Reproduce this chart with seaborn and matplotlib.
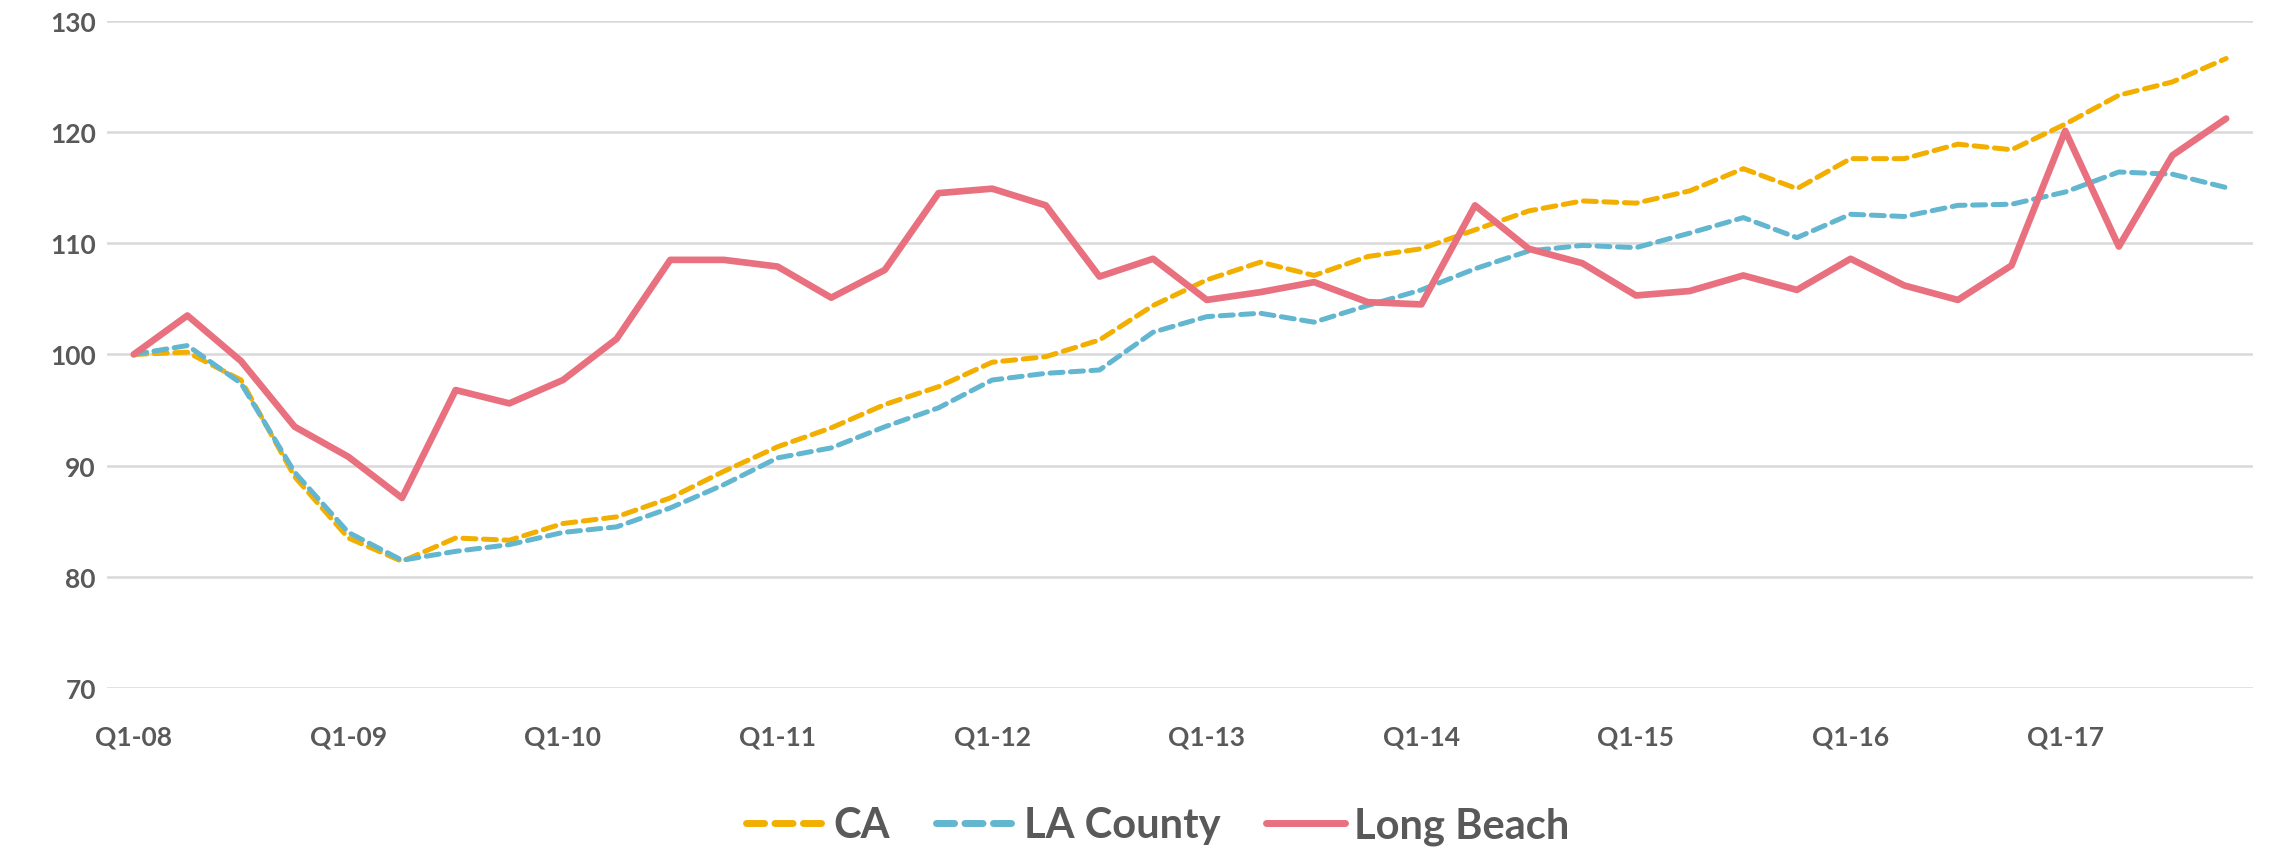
import numpy as np
import pandas as pd
import matplotlib
matplotlib.use("Agg")
import matplotlib.pyplot as plt
import seaborn as sns

quarters = [f"Q{q}-{y:02d}" for y in range(8, 18) for q in range(1, 5)]

ca = [100.0, 100.2, 97.7, 89.0, 83.5, 81.4, 83.5, 83.3, 84.8, 85.4,
      87.1, 89.5, 91.7, 93.4, 95.5, 97.1, 99.3, 99.8, 101.3, 104.4,
      106.7, 108.3, 107.1, 108.8, 109.5, 111.2, 112.9, 113.8, 113.6, 114.7,
      116.7, 114.9, 117.6, 117.6, 118.9, 118.4, 120.7, 123.3, 124.5, 126.6]

la_county = [100.0, 100.8, 97.4, 89.4, 84.0, 81.5, 82.3, 82.9, 84.0, 84.5,
             86.2, 88.3, 90.7, 91.6, 93.5, 95.2, 97.7, 98.3, 98.6, 102.0,
             103.4, 103.7, 102.9, 104.4, 105.8, 107.7, 109.3, 109.8, 109.6, 110.9,
             112.3, 110.5, 112.6, 112.4, 113.4, 113.5, 114.6, 116.4, 116.2, 115.0]

long_beach = [100.0, 103.5, 99.4, 93.5, 90.8, 87.1, 96.8, 95.6, 97.7, 101.4,
              108.5, 108.5, 107.9, 105.1, 107.6, 114.5, 114.9, 113.4, 107.0, 108.6,
              104.9, 105.6, 106.5, 104.7, 104.5, 113.4, 109.5, 108.2, 105.3, 105.7,
              107.1, 105.8, 108.6, 106.2, 104.9, 108.0, 120.1, 109.7, 117.9, 121.2]

series = {"CA": ca, "LA County": la_county, "Long Beach": long_beach}
colors = {"CA": "#F2AF00", "LA County": "#62B6CF", "Long Beach": "#E8707F"}
widths = {"CA": 3.6, "LA County": 3.6, "Long Beach": 4.8}
dashed = {"CA": True, "LA County": True, "Long Beach": False}

dt = pd.DataFrame({"idx": np.arange(len(quarters)), "quarter": quarters, **series})

sns.set_style("white")
plt.rcParams["font.family"] = ["Lato", "DejaVu Sans"]
plt.rcParams["font.weight"] = "bold"
text_col = "#595959"

fig = plt.figure(figsize=(22.7, 8.54), dpi=100)
ax = fig.add_axes([0.0471, 0.193, 0.9454, 0.7816])

for name in series:
    sns.lineplot(x=dt["idx"], y=dt[name], color=colors[name], linewidth=widths[name],
                 label=name, ax=ax)
    ln = ax.lines[-1]
    if dashed[name]:
        ln.set_dashes((2.6, 1.5))
        ln.set_dash_capstyle("round")

ax.set_ylim(70, 130)
ax.set_yticks(range(70, 131, 10))
ax.set_xlim(-0.5, 39.5)
ax.set_xticks(dt["idx"][::4])
ax.set_xticklabels(dt["quarter"][::4])
ax.set_xlabel("")
ax.set_ylabel("")
ax.grid(True, axis="y", color="#D9D9D9", linewidth=1.8)
ax.grid(False, axis="x")
ax.set_axisbelow(True)
for s in ax.spines.values():
    s.set_visible(False)
ax.tick_params(axis="both", length=0, labelsize=19, labelcolor=text_col)
ax.tick_params(axis="x", pad=26)
ax.tick_params(axis="y", pad=8)

leg = ax.legend(loc="center", bbox_to_anchor=(0.51, 0.032), bbox_transform=fig.transFigure,
                ncol=3, frameon=False, fontsize=30, handlelength=1.9, columnspacing=1.1,
                handletextpad=0.2, labelcolor=text_col)
for h in leg.get_lines():
    h.set_linewidth(5)

plt.savefig("out.png", dpi=100)
